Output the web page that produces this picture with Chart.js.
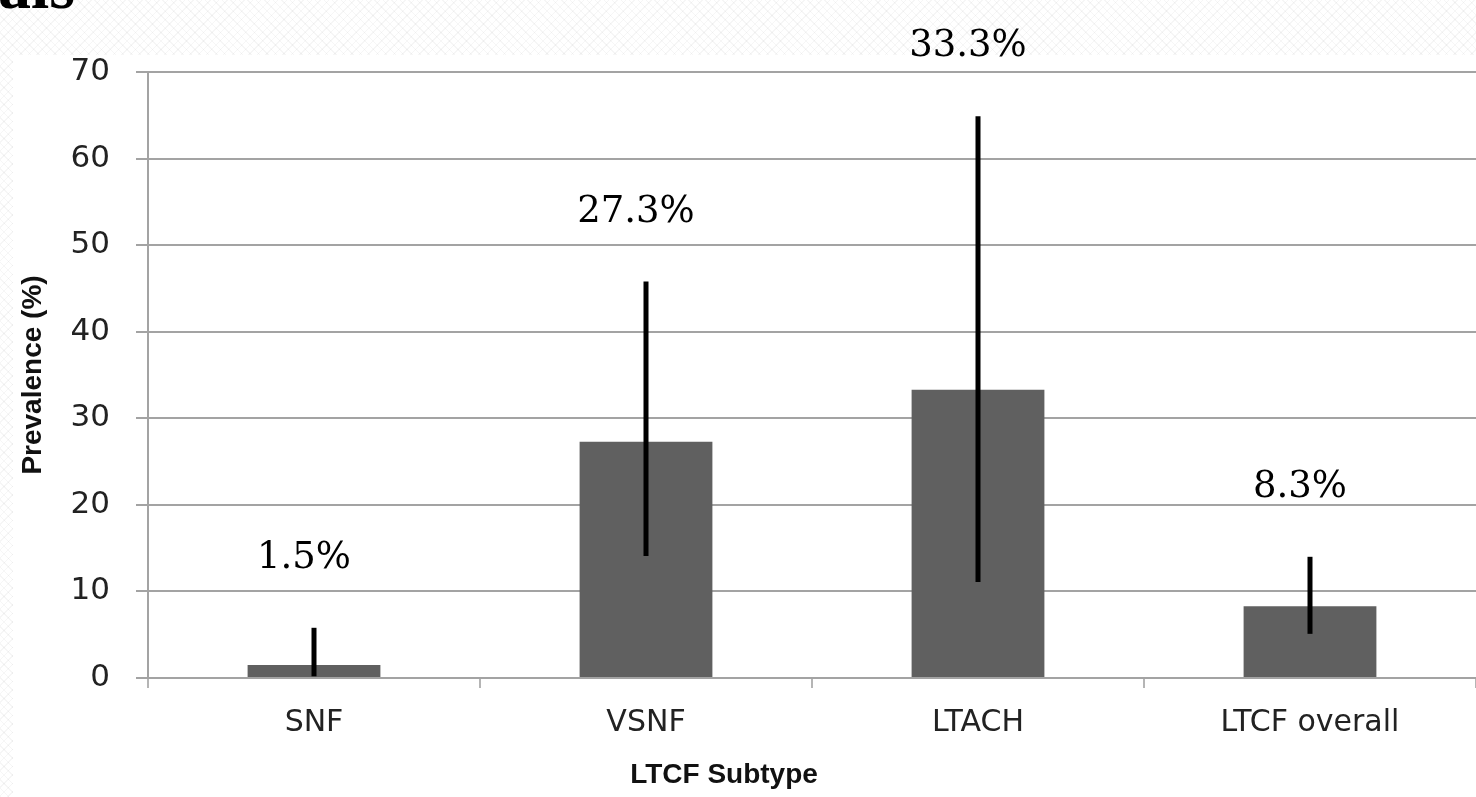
<!DOCTYPE html>
<html>
<head>
<meta charset="utf-8">
<script src="https://cdn.jsdelivr.net/npm/chart.js@4"></script>
<style>
    html, body {
        margin: 0;
        padding: 0;
        width: 1476px;
        height: 797px;
        overflow: hidden;
        background-color: #ffffff;
        background-image:
            repeating-linear-gradient(45deg, rgba(0,0,0,0.035) 0 1px, transparent 1px 6px),
            repeating-linear-gradient(-45deg, rgba(0,0,0,0.035) 0 1px, transparent 1px 6px);
    }
    #wrap {
        position: relative;
        width: 1476px;
        height: 797px;
    }
    #heading {
        position: absolute;
        left: -2px;
        top: -52px;
        font-family: "Liberation Serif", serif;
        font-weight: bold;
        font-size: 66px;
        color: #000;
    }
    canvas {
        position: absolute;
        left: 0;
        top: 0;
    }
</style>
</head>
<body>
<div id="wrap">
    <canvas id="prevalence-chart" width="1476" height="797"></canvas>
    <div id="heading">als</div>
</div>
<script>
// Chart data
const categories = ['SNF', 'VSNF', 'LTACH', 'LTCF overall'];
const prevalence = [1.5, 27.3, 33.3, 8.3];
const ciLow = [0.2, 14.1, 11.1, 5.1];
const ciHigh = [5.8, 45.8, 64.9, 14.0];
const valueLabels = ['1.5%', '27.3%', '33.3%', '8.3%'];
const yTicks = [0, 10, 20, 30, 40, 50, 60, 70];
const xTitle = 'LTCF Subtype';

const gridColor = '#a3a3a3';

// white card behind the chart (slide background shows around it)
const whiteCard = {
    id: 'whiteCard',
    beforeDraw(chart) {
        const ctx = chart.ctx;
        ctx.save();
        ctx.fillStyle = '#ffffff';
        ctx.fillRect(13, 55, chart.width - 13, chart.height - 55);
        ctx.restore();
    }
};

// error bars + percentage labels + x title (sits left of centre in the original)
const errorBars = {
    id: 'errorBars',
    afterDatasetsDraw(chart) {
        const ctx = chart.ctx;
        const x = chart.scales.x;
        const y = chart.scales.y;
        ctx.save();
        ctx.strokeStyle = '#000000';
        ctx.lineWidth = 5;
        categories.forEach((c, i) => {
            const px = x.getPixelForValue(i);
            ctx.beginPath();
            ctx.moveTo(px, y.getPixelForValue(ciLow[i]));
            ctx.lineTo(px, y.getPixelForValue(ciHigh[i]));
            ctx.stroke();
        });
        ctx.fillStyle = '#000000';
        ctx.font = '37px "DejaVu Serif", serif';
        ctx.textAlign = 'center';
        ctx.textBaseline = 'alphabetic';
        categories.forEach((c, i) => {
            const px = x.getPixelForValue(i) - 10;
            const py = y.getPixelForValue(ciHigh[i]) - 60;
            ctx.fillText(valueLabels[i], px, py);
        });

        ctx.fillStyle = '#111';
        ctx.font = 'bold 28px "Liberation Sans", sans-serif';
        ctx.textBaseline = 'middle';
        ctx.fillText(xTitle, (x.left + x.right) / 2 - 88, 775);
        ctx.restore();
    }
};

const ctx = document.getElementById('prevalence-chart').getContext('2d');

new Chart(ctx, {
    type: 'bar',
    data: {
        labels: categories,
        datasets: [{
            data: prevalence,
            backgroundColor: '#606060',
            borderWidth: 0,
            barPercentage: 0.4,
            categoryPercentage: 1.0
        }]
    },
    options: {
        responsive: false,
        animation: false,
        devicePixelRatio: 1,
        layout: {
            padding: { top: 72, right: 0, bottom: 0, left: 0 }
        },
        plugins: {
            legend: { display: false },
            tooltip: { enabled: false }
        },
        scales: {
            x: {
                grid: {
                    drawOnChartArea: false,
                    drawTicks: true,
                    tickLength: 10,
                    color: '#b5b5b5',
                    lineWidth: 2
                },
                border: { color: gridColor, width: 2 },
                ticks: {
                    color: '#222',
                    padding: 17,
                    font: { family: 'DejaVu Sans', size: 30 }
                },
                afterFit(scale) { scale.height = 119; }
            },
            y: {
                min: 0,
                max: 70,
                afterBuildTicks(scale) {
                    scale.ticks = yTicks.map(v => ({ value: v }));
                },
                grid: {
                    color: gridColor,
                    lineWidth: 2,
                    drawTicks: true,
                    tickLength: 12
                },
                border: { color: gridColor, width: 2 },
                ticks: {
                    color: '#222',
                    padding: 26,
                    font: { family: 'DejaVu Sans', size: 31 }
                },
                title: {
                    display: true,
                    text: 'Prevalence (%)',
                    color: '#111',
                    padding: { top: 16, bottom: 0 },
                    font: { family: 'Liberation Sans', size: 28, weight: 'bold' }
                },
                afterFit(scale) { scale.width = 148; }
            }
        }
    },
    plugins: [whiteCard, errorBars]
});
</script>
</body>
</html>
